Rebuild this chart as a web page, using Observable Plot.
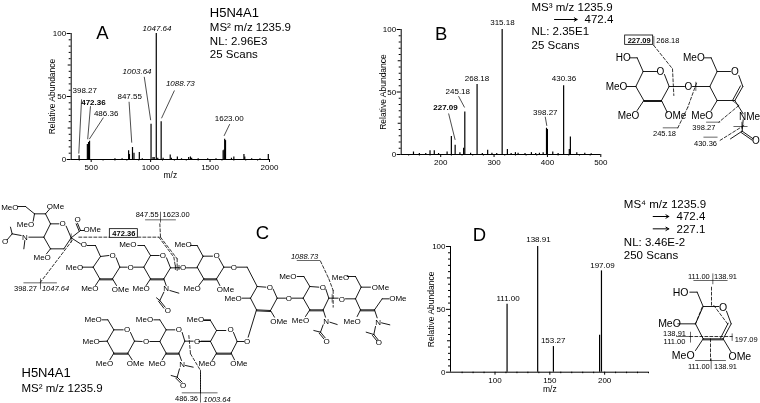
<!DOCTYPE html>
<html><head><meta charset="utf-8">
<script src="https://cdn.jsdelivr.net/npm/d3@7"></script>
<script src="https://cdn.jsdelivr.net/npm/@observablehq/plot@0.6"></script>
<style>
html,body{margin:0;padding:0;background:#fff;overflow:hidden}
#fig{position:relative;width:760px;height:403px;overflow:hidden;font-family:"Liberation Sans",Arial,sans-serif;filter:blur(0.3px)}
#fig>svg,#fig>div{position:absolute}
</style></head><body><div id="fig"></div>
<script>
const FONT='"Liberation Sans",Arial,sans-serif';
const INK="#000";

/* ---------- spectra: [m/z, relative abundance] ---------- */
const peaksA=[[398.27,3],[468,12],[478,13.5],[486.36,14.5],[815,7],[822,4],[847.55,9.5],[860,5],[905,5.5],[1003.64,28],[1020,1.5],[1030,1.5],[1047.64,100],[1060,1],[1088.73,30],[1105,1],[1165,3.5],[1175,1],[1225,2],[1320,1.5],[1335,2],[1345,1],[1610,7],[1618,7.5],[1623,16],[1630,15],[1680,1],[1700,2],[1785,4],[1792,2],[1990,4],[700,0.6],[760,0.6],[930,0.6],[1260,0.6],[1400,0.6],[1480,0.6],[1550,0.6],[1850,0.6],[1920,0.6]];
const peaksB=[[149,2],[160,0.8],[172,0.8],[180,3],[188,3],[196,0.8],[212,2],[220,14.5],[227.09,7.5],[236,1.5],[243,5],[245.18,34],[256,1],[268.18,56],[278,0.8],[288,3.5],[296,1],[305,0.8],[315.18,100],[325,4],[332,0.8],[340,1.5],[345,1],[358,0.8],[370,1.5],[378,0.8],[385,1],[392,1.5],[398.27,21],[400,20],[410,2],[420,0.8],[430.36,55],[441,4],[443,14],[455,1.5],[470,1],[482,0.6]];
const peaksD=[[111,54],[138.91,100],[153.27,20.4],[195.4,29.4],[197.09,80.6]];

/* ---------- peak labels: [text, m/z, abundance] ---------- */
const labelsA=[["398.27",446,54.8],["486.36",626,36.7],["847.55",824,50],["1623.00",1661,32.8]];
const labelsAItalic=[["1047.64",1054,104],["1003.64",886,70],["1088.73",1250,60.3]];
const labelsABold=[["472.36",519,45.5]];
const leadersA=[[419,47.4,396,5],[494,42,471,16.4],[601,33,486,16.4],[819,45.5,841,13.7],[947,65.3,1000,31.5],[1199,54.5,1093,33],[1664,27.8,1619,19]];
const labelsB=[["315.18",315.7,105.4],["268.18",268,60.8],["245.18",232,50.4],["398.27",396,33.6],["430.36",431,60.5]];
const labelsBBold=[["227.09",209,37.3]];
const leadersB=[[233.75,46.4,244.4,37.9],[215,32.5,226.9,12],[396,29.9,398.75,23.2]];
const labelsD=[["111.00",111.9,58.9],["138.91",139.6,105.6],["153.27",153,25.5],["197.09",198,84.6]];

/* ---------- tick values ---------- */
const ticksYMajor=[0,50,100], ticksYMid=[25,75];
const ticksYMinor=[5,10,15,20,30,35,40,45,55,60,65,70,80,85,90,95];
const ticksAX=[500,1000,1500,2000], minorAX=[400,600,700,800,900,1100,1200,1300,1400,1600,1700,1800,1900];
const ticksBX=[200,300,400,500], minorBX=[140,160,180,220,240,260,280,320,340,360,380,420,440,460,480];
const ticksDX=[100,150,200], minorDX=[70,80,90,110,120,130,140,160,170,180,190,210,220,230,240];

const fig=document.getElementById("fig");
function place(svg,left,top){svg.style.left=left+"px";svg.style.top=top+"px";svg.style.background="transparent";fig.appendChild(svg);}
const seg=o=>Plot.link(o.data,{x1:d=>d[0],y1:d=>d[1],x2:d=>d[2],y2:d=>d[3],stroke:o.stroke||INK,strokeWidth:o.w||0.8,strokeDasharray:o.dash,strokeLinecap:"round"});

function spectrum(c){
  const lab=(data,extra)=>Plot.text(data,{x:d=>d[1],y:d=>d[2],text:d=>d[0],fontSize:8,fill:INK,lineAnchor:"middle",...extra});
  const plot=Plot.plot({
    width:c.width,height:c.height,marginLeft:c.ml,marginRight:c.mr,marginTop:c.mt,marginBottom:c.mb,
    x:{domain:c.xd},y:{domain:[0,100]},
    style:{fontFamily:FONT,background:"transparent",overflow:"visible"},
    marks:[
      Plot.axisX({ticks:c.xt,tickSize:3,tickPadding:2,fontSize:8,label:null,stroke:INK,fill:INK,tickFormat:d=>String(d)}),
      Plot.axisX({ticks:c.xm,tickSize:1.5,text:null,label:null,stroke:INK}),
      Plot.axisY({ticks:ticksYMajor,tickSize:4,tickPadding:1,fontSize:8,label:null,stroke:INK,fill:INK}),
      Plot.axisY({ticks:ticksYMid,tickSize:3,text:null,label:null,stroke:INK}),
      Plot.axisY({ticks:ticksYMinor,tickSize:2,text:null,label:null,stroke:INK}),
      Plot.ruleY([0],{stroke:INK,strokeWidth:1}),
      Plot.ruleX([c.xd[0]],{stroke:INK,strokeWidth:1}),
      Plot.ruleX(c.peaks,{x:d=>d[0],y1:0,y2:d=>d[1],stroke:"#000",strokeWidth:1.2}),
      seg({data:c.leaders||[],w:0.7}),
      lab(c.labels||[]),lab(c.labelsItalic||[],{fontStyle:"italic"}),lab(c.labelsBold||[],{fontWeight:"bold"}),
      Plot.text(c.axisName,{x:d=>d[1],y:d=>d[2],text:d=>d[0],fontSize:8.5,fill:INK,rotate:d=>d[3],lineAnchor:"middle"})
    ]
  });
  place(plot,c.left,c.top);
}
const YL="Relative Abundance", XL="m/z";
spectrum({left:0,top:0,width:290,height:185,ml:70.7,mr:21,mt:33,mb:26,xd:[332,2000],xt:ticksAX,xm:minorAX,peaks:peaksA,labels:labelsA,labelsItalic:labelsAItalic,labelsBold:labelsABold,leaders:leadersA,
  axisName:[[YL,171,50,-90],[XL,1166,-12.5,0]]});
spectrum({left:360,top:0,width:260,height:180,ml:40.7,mr:19.7,mt:29,mb:26,xd:[126,500],xt:ticksBX,xm:minorBX,peaks:peaksB,labels:labelsB,labelsBold:labelsBBold,leaders:leadersB,
  axisName:[[YL,92,50,-90]]});
spectrum({left:410,top:200,width:260,height:195,ml:40,mr:22,mt:46,mb:23.3,xd:[59.4,240],xt:ticksDX,xm:minorDX,peaks:peaksD,labels:labelsD,
  axisName:[[YL,41.5,50,-90],[XL,150,-13.5,0]]});

/* ---------- drawn structures: each has its own 3-units-per-pixel scale ---------- */
function sketch(c){
  const t=(data,size,extra)=>Plot.text(data,{x:d=>d[1],y:d=>d[2],text:d=>d[0],fontSize:size,fill:INK,lineAnchor:"middle",...extra});
  const plot=Plot.plot({
    width:c.w,height:c.h,margin:0,x:{axis:null,domain:[0,c.w*3],range:[0,c.w]},y:{axis:null,domain:[0,c.h*3],range:[0,c.h]},
    style:{fontFamily:FONT,background:"transparent",overflow:"visible"},
    marks:[
      seg({data:c.bonds||[],w:c.bw||0.9}),
      seg({data:c.thin||[],w:0.6}),
      seg({data:c.dash||[],w:0.8,dash:"3,2"}),
      Plot.rect(c.boxes||[],{x1:d=>d[0],y1:d=>d[1],x2:d=>d[2],y2:d=>d[3],fill:"#fff",stroke:INK,strokeWidth:0.8}),
      t(c.atoms||[],c.atomSize),
      t(c.frags||[],7.5),
      t(c.fragsItalic||[],7.5,{fontStyle:"italic"}),
      t(c.fragsBold||[],7.5,{fontWeight:"bold"}),
      t(c.big||[],18.5),
      t(c.notes||[],11.5,{textAnchor:"start"}),
      t(c.heads||[],13,{textAnchor:"start"}),
      ...(c.arrows||[]).map(a=>Plot.arrow([a],{x1:d=>d[0],y1:d=>d[1],x2:d=>d[2],y2:d=>d[3],stroke:INK,strokeWidth:1,headLength:5,bend:0}))
    ]
  });
  place(plot,c.left,c.top);
}

/* page-level headings, read in 3x units */
const headsA=[["H5N4A1",628,36]];
const notesA=[["MS² m/z 1235.9",628,81],["NL: 2.96E3",628,123],["25 Scans",628,162]];
const notesB=[["MS³ m/z 1235.9",1593,21],["472.4",1752,57],["NL: 2.35E1",1593,93],["25 Scans",1593,135]];
const arrowsB=[[1662,57,1730,57]];
const notesD=[["MS⁴ m/z 1235.9",1870,612],["472.4",2028,648],["227.1",2028,685],["NL: 3.46E-2",1870,725],["250 Scans",1870,765]];
const arrowsD=[[1958,648,2005,648],[1958,685,2005,685]];
const headsC=[["H5N4A1",63,1118]];
const notesC=[["MS² m/z 1235.9",63,1164]];
const letters=[["A",306,99],["B",1322,102],["C",786,699],["D",1437,705]];
sketch({left:0,top:0,w:760,h:403,heads:[...headsA,...headsC],notes:[...notesA,...notesB,...notesD,...notesC],arrows:[...arrowsB,...arrowsD],big:letters});

/* structure B */
const bondsB=[
[128,213,168,213],[192,222,206,258],[206,258,183,300],[183,300,130,300],[183,303,130,303],[130,300,106,258],[106,258,128,213],
[128,213,110,172],[110,172,88,172],[78,258,106,258],[130,300,110,330],[183,300,200,335],
[206,258,252,258],[276,258,328,258],
[350,213,390,213],[415,225,427,258],[427,258,403,300],[420,256,397,298],[403,300,350,300],[350,300,328,258],[328,258,350,213],
[350,213,332,172],[332,172,312,172],[350,300,332,330],[403,300,428,340],[428,358,425,392],[425,392,390,415],[425,392,458,415],[422,396,455,419]];
const thinB=[[188,382,232,382],[318,365,358,365],[310,410,350,410],[400,378,440,378],[424,365,424,385],[286,245,286,270],[395,300,415,315],[160,108,160,135]];
const dashB=[[160,135,216,205],[216,205,220,285],[288,248,262,320],[262,320,232,382],[415,315,355,365],[430,375,358,420]];
sketch({left:600,top:0,w:160,h:150,bonds:bondsB,thin:thinB,dash:dashB,atomSize:10,
  boxes:[[74,105,158,133]],
  atoms:[["HO",68,172],["O",180,215],["MeO",48,258],["MeO",84,345],["OMe",225,347],["O",264,258],["O",403,215],["MeO",280,172],["MeO",305,345],["NMe",447,348],["O",466,420]],
  frags:[["268.18",202,120],["245.18",192,398],["398.27",310,380],["430.36",315,428]],
  fragsBold:[["227.09",116,119]]});

/* structure C, left part */
const bondsC1=[
[52,78,75,78],[75,78,102,100],[102,100,135,100],[135,100,148,85],[102,100,98,122],[135,100,150,130],
[150,130,175,130],[197,137,212,172],[212,172,190,205],[190,205,150,205],[150,205,130,170],[130,170,150,130],
[130,170,85,170],[73,180,70,205],[62,165,35,160],[35,160,30,140],[35,160,20,178],[150,205,138,220],
[212,172,240,150],[240,150,231,128],[236,152,227,130],[240,150,250,150],[212,172,240,190],[260,195,285,195],[285,195,300,228],
[300,228,325,225],[347,232,358,260],[358,260,336,295],[336,295,298,295],[298,298,336,298],[298,295,278,260],[278,260,300,228],
[245,260,278,260],[298,295,285,315],[336,295,348,315],[358,260,380,260],[400,260,430,260],
[450,225,476,225],[498,232,510,262],[510,262,490,295],[490,295,450,295],[450,298,490,298],[450,295,430,260],[430,260,450,225],
[450,225,432,195],[432,195,412,195],[450,295,437,315],[490,295,497,315],[508,330,535,338],[490,335,478,360],[478,360,494,380],[474,362,490,383],[478,360,468,352],
[510,262,538,262],[558,262,590,262],[608,228,590,195],[590,195,570,195],[610,295,595,315],
/* lower branch */
[340,448,368,448],[390,456,402,482],[402,482,382,518],[382,518,340,518],[340,521,382,521],[340,518,320,482],[320,482,340,448],
[340,448,322,418],[322,418,305,418],[297,483,320,482],[340,518,328,538],[382,518,395,538],[402,482,425,483],[448,483,478,483],
[497,448,523,448],[545,456,553,482],[553,482,535,518],[535,518,497,518],[497,521,535,521],[497,518,478,483],[478,483,497,448],
[497,448,478,418],[478,418,460,418],[497,518,485,538],[535,518,543,540],[555,555,578,560],[537,565,530,590],[530,590,545,605],[526,593,541,608],[530,590,512,585],
[553,482,578,482],[602,482,630,482],[612,418,630,418]];
const thinC1=[[435,118,525,118],[480,95,480,125],[70,307,168,307],[120,295,120,325],[545,637,650,637],[600,637,600,665],[212,160,212,185]];
const dashC1=[[478,130,480,170],[480,170,530,235],[530,235,530,270],[475,170,520,230],[520,230,525,260],[235,170,328,170],[412,170,475,170],[215,180,120,305],[565,465,570,520],[570,520,600,570],[600,570,600,637]];
sketch({left:0,top:180,w:210,h:223,bonds:bondsC1,thin:thinC1,dash:dashC1,atomSize:8,
  boxes:[[328,146,412,172]],
  atoms:[["MeO",28,80],["OMe",165,78],["MeO",75,133],["O",186,130],["O",231,118],["OMe",275,148],["O",14,183],["N",73,170],["MeO",125,230],["O",250,193],
    ["O",336,225],["MeO",222,260],["MeO",268,325],["OMe",360,327],["O",390,260],["O",487,225],["MeO",382,193],["MeO",422,325],["N",497,325],["O",502,390],["H",530,262],["O",548,262],["MeO",548,193],["MeO",575,325],
    ["O",380,448],["MeO",278,418],["MeO",272,483],["MeO",312,550],["OMe",405,550],["O",437,484],["O",535,448],["MeO",432,418],["MeO",470,550],["N",545,552],["O",548,615],["O",590,482],["MeO",585,418]],
  frags:[["847.55",440,103],["1623.00",527,103],["398.27",75,323],["486.36",558,655]],
  fragsItalic:[["1047.64",165,325]],
  fragsBold:[["472.36",370,158]]});

/* structure C, right part */
const bondsC2=[
[8,197,36,197],[55,203,70,230],[70,230,48,265],[48,265,10,265],[10,268,48,268],[10,265,-10,230],[-10,230,8,197],[48,265,58,285],[70,230,90,230],[110,230,140,230],[140,230,170,288],
[170,288,196,290],[218,296,230,323],[230,323,210,360],[210,360,168,358],[168,361,210,363],[168,358,150,323],[150,323,170,288],[125,323,150,323],[210,360,222,380],[230,323,255,323],[275,323,308,323],[168,358,143,440],
[328,288,355,290],[376,296,385,323],[385,323,368,358],[368,358,328,358],[328,361,368,361],[328,358,308,323],[308,323,328,288],[328,288,310,258],[310,258,290,258],[328,358,315,378],[368,358,375,380],[388,395,410,402],[368,403,360,425],[360,425,374,442],[356,428,370,445],[360,425,340,420],
[385,323,413,323],[435,325,465,325],[465,325,482,290],[482,290,510,290],[440,258,465,258],[465,258,482,290],[465,325,480,358],[480,358,522,358],[480,361,522,361],[480,358,470,378],[522,358,545,325],[545,325,565,325],[522,358,530,382],[543,397,568,403],[525,408,520,432],[520,432,533,448],[516,435,529,451],[520,432,497,425],
[48,420,76,420],[99,426,110,453],[110,453,92,488],[92,488,48,488],[48,491,92,491],[48,488,30,453],[30,453,48,420],[48,420,30,390],[30,390,10,390],[48,488,35,510],[92,488,102,508],[110,453,130,453],[30,453,-5,453]];
const thinC2=[[290,210,358,210],[395,312,395,335]];
const dashC2=[[360,212,385,265],[385,265,398,300],[398,300,398,350],[0,548,0,605]];
sketch({left:200,top:190,w:210,h:213,bonds:bondsC2,thin:thinC2,dash:dashC2,atomSize:8,
  atoms:[["O",48,195],["OMe",75,297],["O",100,230],["O",208,290],["MeO",98,325],["OMe",235,392],["O",265,323],["O",140,453],
    ["O",367,290],["MeO",262,258],["MeO",300,390],["N",377,392],["O",378,452],["O",424,327],["OMe",540,292],["MeO",420,260],["MeO",455,392],["OMe",592,325],["N",533,395],["O",535,457],
    ["O",90,418],["MeO",20,520],["OMe",115,520]],
  fragsItalic:[["1088.73",312,197],["1003.64",50,627]]});

/* structure D */
const bondsD=[[308,348,355,348],[378,362,392,400],[392,400,368,445],[383,398,360,443],[368,445,308,445],[308,448,368,448],[308,445,285,400],[285,400,308,348],
[308,348,290,305],[290,305,268,305],[232,400,285,400],[308,445,285,480],[368,445,392,485]];
const thinD=[[280,270,380,270],[337,250,337,280],[228,438,268,438],[270,425,270,455],[395,430,395,450],[285,510,375,510],[332,505,332,535]];
const dashD=[[333,290,333,345],[305,350,285,400],[340,345,385,405],[268,438,395,438],[330,445,330,510]];
sketch({left:600,top:190,w:160,h:200,bonds:bondsD,thin:thinD,dash:dashD,atomSize:10.5,
  atoms:[["HO",240,305],["O",368,350],["MeO",207,400],["MeO",248,495],["OMe",418,497]],
  frags:[["111.00",295,258],["138.91",375,258],["138.91",222,428],["111.00",222,452],["197.09",437,447],["111.00",295,527],["138.91",375,527]]});
</script></body></html>
